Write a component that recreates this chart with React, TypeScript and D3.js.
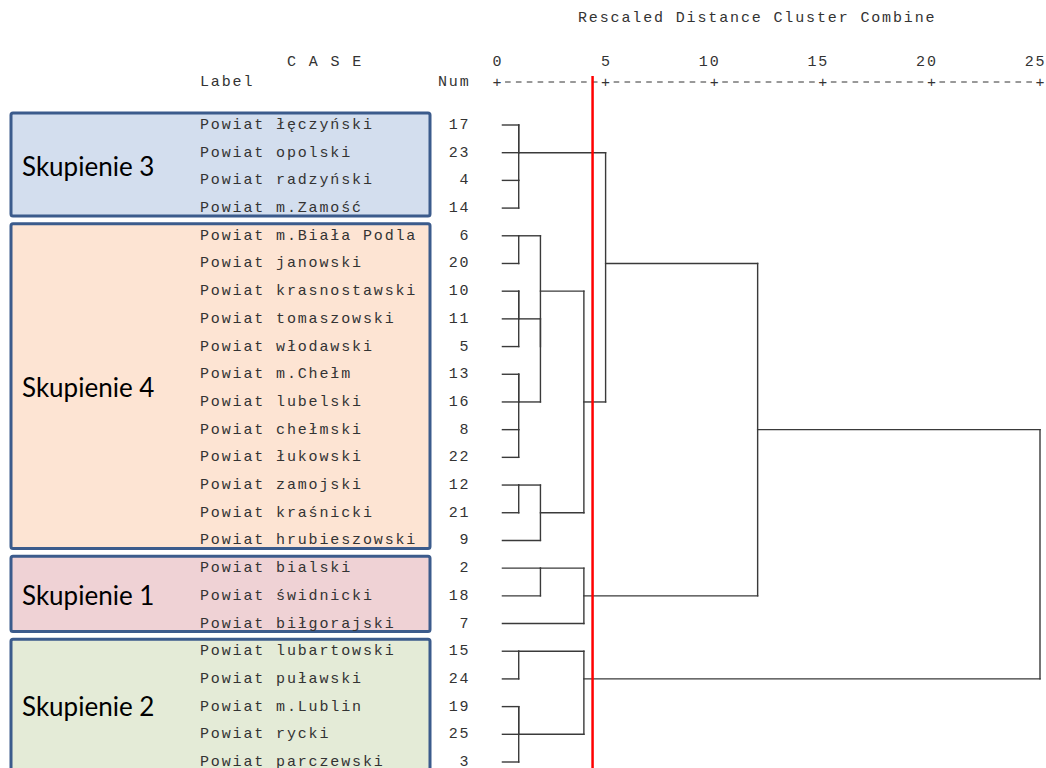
import { useEffect, useRef } from 'react';
import * as d3 from 'd3';

// cases in dendrogram order
const caseLabels = [
  'Powiat łęczyński', 'Powiat opolski', 'Powiat radzyński', 'Powiat m.Zamość',
  'Powiat m.Biała Podla', 'Powiat janowski', 'Powiat krasnostawski', 'Powiat tomaszowski',
  'Powiat włodawski', 'Powiat m.Chełm', 'Powiat lubelski', 'Powiat chełmski',
  'Powiat łukowski', 'Powiat zamojski', 'Powiat kraśnicki', 'Powiat hrubieszowski',
  'Powiat bialski', 'Powiat świdnicki', 'Powiat biłgorajski',
  'Powiat lubartowski', 'Powiat puławski', 'Powiat m.Lublin', 'Powiat rycki', 'Powiat parczewski',
];
const caseNums = [17, 23, 4, 14, 6, 20, 10, 11, 5, 13, 16, 8, 22, 12, 21, 9, 2, 18, 7, 15, 24, 19, 25, 3];

// agglomeration schedule: [case in cluster A, case in cluster B, rescaled distance]
const merges: [number, number, number][] = [
  [17, 23, 1], [4, 14, 1], [17, 4, 1],
  [6, 20, 1],
  [10, 11, 1], [10, 5, 1],
  [13, 16, 1], [8, 22, 1], [13, 8, 1],
  [12, 21, 1],
  [15, 24, 1],
  [19, 25, 1], [19, 3, 1],
  [2, 18, 2],
  [12, 9, 2],
  [10, 13, 2], [6, 10, 2],
  [6, 12, 4],
  [2, 7, 4],
  [15, 19, 4],
  [17, 6, 5],
  [17, 2, 12],
  [17, 15, 25],
];

// groups marked on the left: name, first row, last row, fill
const groupNames = ['Skupienie 3', 'Skupienie 4', 'Skupienie 1', 'Skupienie 2'];
const groupFirst = [0, 4, 16, 19];
const groupLast = [3, 15, 18, 23];
const groupFills = ['#d3deee', '#fde4d3', '#efd2d5', '#e4ebd7'];

const ticks = [0, 5, 10, 15, 20, 25];
const cutValue = 4.4;

const W = 1046;
const H = 768;

export default function App() {
  const svgRef = useRef<SVGSVGElement>(null);

  useEffect(() => {
    const svg = d3.select(svgRef.current);
    svg.selectAll('*').remove();

    const x = d3.scaleLinear().domain([0, 25]).range([497, 1040]);
    const y = d3.scaleLinear().domain([0, caseNums.length - 1]).range([125, 762]);

    const charW = (x(25) - x(0)) / 50;
    const fontSize = 15;
    const glyphW = fontSize * 0.6;
    const mono = {
      'font-family': '"Liberation Mono", "DejaVu Sans Mono", monospace',
      'font-size': `${fontSize}px`,
      'letter-spacing': `${charW - glyphW}px`,
      fill: '#333',
    };
    const monoText = (g: any, str: string, tx: number, ty: number) => {
      const t = g.append('text').attr('x', tx).attr('y', ty).text(str);
      Object.entries(mono).forEach(([k, v]) => t.attr(k, v));
      return t;
    };
    // position so that the last char is centred on cx
    const lastCharAt = (str: string, cx: number) => cx - (str.length - 1) * charW - glyphW / 2;

    // group boxes
    const boxes = svg.append('g');
    groupNames.forEach((name, i) => {
      const top = y(groupFirst[i]) - 12;
      const bottom = y(groupLast[i]) + 8;
      boxes.append('rect')
        .attr('x', 11)
        .attr('y', top)
        .attr('width', 419)
        .attr('height', bottom - top)
        .attr('rx', 2)
        .attr('fill', groupFills[i])
        .attr('stroke', '#3b5b8c')
        .attr('stroke-width', 3);
      boxes.append('text')
        .attr('x', 22)
        .attr('y', (y(groupFirst[i]) + y(groupLast[i])) / 2 + 9)
        .attr('font-family', 'Lato, "Open Sans", sans-serif')
        .attr('font-size', 26)
        .attr('fill', '#000')
        .text(name);
    });

    // headers
    const head = svg.append('g');
    monoText(head, 'Rescaled Distance Cluster Combine', 578, 22);
    monoText(head, 'C A S E', 287, 66);
    monoText(head, 'Label', 200, 86);
    monoText(head, 'Num', 438, 86);

    // axis
    ticks.forEach(t => {
      const s = String(t);
      monoText(head, s, lastCharAt(s, x(t)), 66);
      monoText(head, '+', x(t) - glyphW / 2, 87);
    });
    d3.range(0, 25, 0.5).filter(v => v % 5 !== 0).forEach(v => {
      head.append('line')
        .attr('x1', x(v) - 2.8)
        .attr('x2', x(v) + 2.8)
        .attr('y1', 82)
        .attr('y2', 82)
        .attr('stroke', '#333')
        .attr('stroke-width', 1);
    });

    // case labels and numbers
    const rows = svg.append('g');
    caseLabels.forEach((lab, i) => {
      monoText(rows, lab, 200, y(i) + 4);
      const s = String(caseNums[i]);
      monoText(rows, s, lastCharAt(s, 464), y(i) + 4);
    });

    // dendrogram
    const tree = svg.append('g')
      .attr('stroke', '#3a3a3a')
      .attr('stroke-width', 1.4)
      .attr('stroke-linecap', 'square')
      .attr('fill', 'none');

    type Cl = { exit: number; pos: number };
    const owner = new Map<number, Cl>();
    caseNums.forEach((n, i) => owner.set(n, { exit: i, pos: x(0.25) }));

    merges.forEach(([a, b, d]) => {
      const ca = owner.get(a)!;
      const cb = owner.get(b)!;
      const xd = x(d);
      [ca, cb].forEach(c => {
        if (xd - c.pos > 0.5) {
          tree.append('line')
            .attr('x1', c.pos).attr('x2', xd)
            .attr('y1', y(c.exit)).attr('y2', y(c.exit));
        }
      });
      tree.append('line')
        .attr('x1', xd).attr('x2', xd)
        .attr('y1', y(Math.min(ca.exit, cb.exit)))
        .attr('y2', y(Math.max(ca.exit, cb.exit)));
      const merged: Cl = { exit: Math.floor((ca.exit + cb.exit) / 2), pos: xd };
      owner.forEach((c, k) => {
        if (c === ca || c === cb) owner.set(k, merged);
      });
    });

    // cut line
    svg.append('line')
      .attr('x1', x(cutValue))
      .attr('x2', x(cutValue))
      .attr('y1', 76)
      .attr('y2', H)
      .attr('stroke', '#ff0000')
      .attr('stroke-width', 2.5);
  }, []);

  return (
    <svg
      ref={svgRef}
      width={W}
      height={H}
      style={{ position: 'absolute', left: 0, top: 0, background: '#fff' }}
    />
  );
}
